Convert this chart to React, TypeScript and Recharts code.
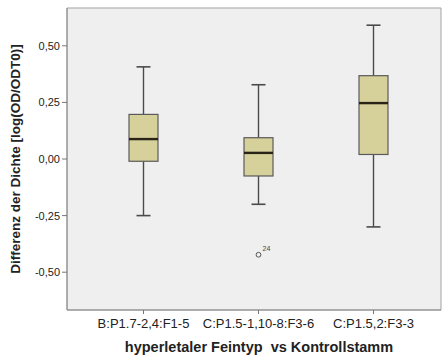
import React from "react";
import {
  ComposedChart,
  Bar,
  Scatter,
  XAxis,
  YAxis,
  CartesianGrid,
  Label,
} from "recharts";

const categories = ["B:P1.7-2,4:F1-5", "C:P1.5-1,10-8:F3-6", "C:P1.5,2:F3-3"];
const whiskerLow = [-0.25, -0.2, -0.3];
const q1 = [-0.01, -0.075, 0.02];
const median = [0.088, 0.027, 0.247];
const q3 = [0.197, 0.094, 0.368];
const whiskerHigh = [0.407, 0.328, 0.591];
const outlierValues: (number | null)[] = [null, -0.423, null];
const outlierLabels: (string | null)[] = [null, "24", null];
const yTicks = [-0.5, -0.25, 0, 0.25, 0.5];

const data = categories.map((cat, i) => ({
  cat,
  range: [whiskerLow[i], whiskerHigh[i]],
  low: whiskerLow[i],
  q1: q1[i],
  median: median[i],
  q3: q3[i],
  high: whiskerHigh[i],
  outlier: outlierValues[i],
  outlierLabel: outlierLabels[i],
}));

const FONT = "'Liberation Sans', Arial, sans-serif";
const LINE = "#4a4a4a";

const BoxShape = (props: any) => {
  const { x, y, width, height, payload } = props;
  if (!payload || height == null) return <g />;
  const top = Math.min(y, y + height);
  const h = Math.abs(height);
  const { low, high } = payload;
  const px = (v: number) => top + (h * (high - v)) / (high - low);
  const cx = x + width / 2;
  const cap = 7;
  const yQ1 = px(payload.q1);
  const yQ3 = px(payload.q3);
  const yMed = px(payload.median);
  return (
    <g>
      <line x1={cx} x2={cx} y1={px(high)} y2={yQ3} stroke={LINE} strokeWidth={1.4} />
      <line x1={cx} x2={cx} y1={yQ1} y2={px(low)} stroke={LINE} strokeWidth={1.4} />
      <line x1={cx - cap} x2={cx + cap} y1={px(high)} y2={px(high)} stroke={LINE} strokeWidth={1.6} />
      <line x1={cx - cap} x2={cx + cap} y1={px(low)} y2={px(low)} stroke={LINE} strokeWidth={1.6} />
      <rect x={x} y={yQ3} width={width} height={yQ1 - yQ3} fill="#d6d09b" stroke="#5a5a5a" strokeWidth={1.2} />
      <line x1={x} x2={x + width} y1={yMed} y2={yMed} stroke="#2a2418" strokeWidth={2.4} />
    </g>
  );
};

const OutlierShape = (props: any) => {
  const { cx, cy, payload } = props;
  if (!payload || payload.outlier == null || cx == null || cy == null || isNaN(cy)) return <g />;
  return (
    <g>
      <circle cx={cx} cy={cy} r={2.4} fill="none" stroke="#555" strokeWidth={1} />
      <text x={cx + 4} y={cy - 4} fontSize={7} fill="#444" fontFamily={FONT}>
        {payload.outlierLabel}
      </text>
    </g>
  );
};

const fmt = (v: number) => v.toFixed(2).replace(".", ",");

export default function App() {
  return (
    <div style={{ position: "absolute", left: 0, top: 0, background: "#fff" }}>
      <ComposedChart
        width={443}
        height={360}
        data={data}
        margin={{ top: 8, right: 2, left: 0, bottom: 0 }}
        style={{ fontFamily: FONT }}
      >
        <CartesianGrid
          fill="#efefef"
          stroke="#a3a3a3"
          strokeWidth={1}
          horizontalCoordinatesGenerator={({ offset }: any) => [offset.top, offset.top + offset.height]}
          verticalCoordinatesGenerator={({ offset }: any) => [offset.left, offset.left + offset.width]}
        />
        <XAxis
          dataKey="cat"
          type="category"
          padding={{ left: 19, right: 10 }}
          height={50}
          tickSize={4}
          tickMargin={5}
          tickLine={{ stroke: "#777" }}
          axisLine={{ stroke: "#8a8a8a" }}
          tick={{ fontSize: 13, fill: "#222", fontFamily: FONT }}
          interval={0}
        >
          <Label
            value={"hyperletaler Feintyp\u00a0 vs Kontrollstamm"}
            position="insideBottom"
            offset={8}
            dx={5}
            style={{ fontSize: 14.5, fontWeight: "bold", fill: "#222", fontFamily: FONT }}
          />
        </XAxis>
        <YAxis
          type="number"
          domain={[-0.667, 0.667]}
          ticks={yTicks}
          allowDataOverflow
          width={67}
          tickSize={5}
          tickFormatter={fmt}
          tickLine={{ stroke: "#777" }}
          axisLine={{ stroke: "#8a8a8a" }}
          tick={{ fontSize: 11, fill: "#222", fontFamily: FONT }}
        >
          <Label
            value="Differenz der Dichte [log(OD/ODT0)]"
            position="center"
            angle={-90}
            dx={-18}
            style={{ fontSize: 13.5, fontWeight: "bold", fill: "#222", fontFamily: FONT, textAnchor: "middle" }}
          />
        </YAxis>
        <Bar dataKey="range" barSize={29} shape={<BoxShape />} isAnimationActive={false} />
        <Scatter dataKey="outlier" shape={<OutlierShape />} isAnimationActive={false} />
      </ComposedChart>
    </div>
  );
}
